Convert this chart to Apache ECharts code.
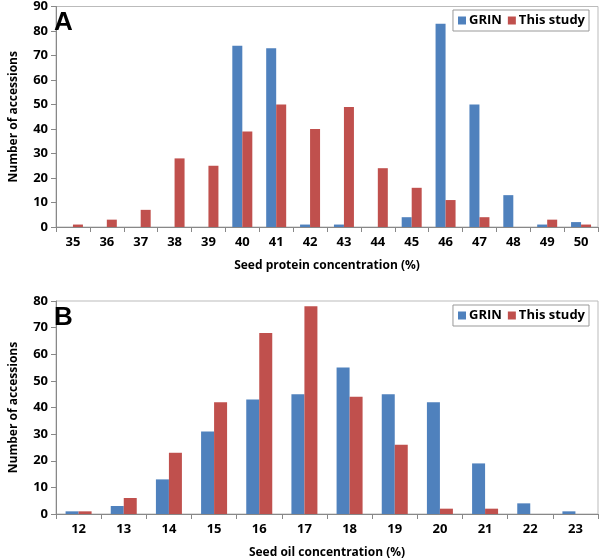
<!DOCTYPE html>
<html>
<head>
<meta charset="utf-8">
<script src="https://cdn.jsdelivr.net/npm/echarts@6/dist/echarts.min.js"></script>
<style>
html, body { margin: 0; padding: 0; background: #fff; }
#main { width: 600px; height: 560px; }
</style>
</head>
<body>
<div id="main"></div>
<script>
var proteinCats = ['35', '36', '37', '38', '39', '40', '41', '42', '43', '44', '45', '46', '47', '48', '49', '50'];
var proteinGrin = [0, 0, 0, 0, 0, 74, 73, 1, 1, 0, 4, 83, 50, 13, 1, 2];
var proteinStudy = [1, 3, 7, 28, 25, 39, 50, 40, 49, 24, 16, 11, 4, 0, 3, 1];

var oilCats = ['12', '13', '14', '15', '16', '17', '18', '19', '20', '21', '22', '23'];
var oilGrin = [1, 3, 13, 31, 43, 45, 55, 45, 42, 19, 4, 1];
var oilStudy = [1, 6, 23, 42, 68, 78, 44, 26, 2, 2, 0, 0];

var blue = '#4F81BD';
var red = '#C0504D';
var font = 'Open Sans';

var chart = echarts.init(document.getElementById('main'));

function xAxisFor(idx, cats, title) {
    return {
        type: 'category',
        gridIndex: idx,
        data: cats,
        name: title,
        nameLocation: 'middle',
        nameGap: 33,
        nameTextStyle: { fontFamily: font, fontWeight: 'bold', fontSize: 12, color: '#000' },
        axisLine: { lineStyle: { color: '#888' } },
        axisTick: { show: true, alignWithLabel: false, length: 5, lineStyle: { color: '#888' } },
        axisLabel: { fontFamily: font, fontWeight: 'bold', fontSize: 13, color: '#000', margin: 9 }
    };
}

function yAxisFor(idx, max) {
    return {
        type: 'value',
        gridIndex: idx,
        min: 0,
        max: max,
        interval: 10,
        name: 'Number of accessions',
        nameLocation: 'middle',
        nameGap: 36,
        nameTextStyle: { fontFamily: font, fontWeight: 'bold', fontSize: 12, color: '#000' },
        splitLine: { show: false },
        axisLine: { show: true, lineStyle: { color: '#888' } },
        axisTick: { show: true, length: 5, lineStyle: { color: '#888' } },
        axisLabel: { fontFamily: font, fontWeight: 'bold', fontSize: 13, color: '#000', margin: 8 }
    };
}

function legendFor(top) {
    return {
        data: ['GRIN', 'This study'],
        right: 11,
        top: top,
        orient: 'horizontal',
        itemWidth: 8,
        itemHeight: 8,
        itemGap: 6,
        icon: 'rect',
        borderColor: '#999',
        borderWidth: 1,
        padding: [4, 4, 4, 5],
        textStyle: { fontFamily: font, fontWeight: 'bold', fontSize: 13, color: '#000', padding: [0, 0, 0, -2] }
    };
}

var option = {
    animation: false,
    color: [blue, red],
    title: [
        { text: 'A', left: 49, top: 5, textStyle: { fontFamily: 'Liberation Sans', fontWeight: 'bold', fontSize: 26, color: '#000' } },
        { text: 'B', left: 49, top: 300, textStyle: { fontFamily: 'Liberation Sans', fontWeight: 'bold', fontSize: 26, color: '#000' } }
    ],
    legend: [legendFor(10), legendFor(305)],
    grid: [
        { left: 46, top: 6, width: 552, height: 221, show: true, borderColor: '#bbb', borderWidth: 1 },
        { left: 46, top: 301, width: 552, height: 214, show: true, borderColor: '#bbb', borderWidth: 1 }
    ],
    xAxis: [
        xAxisFor(0, proteinCats, 'Seed protein concentration (%)'),
        xAxisFor(1, oilCats, 'Seed oil concentration (%)')
    ],
    yAxis: [yAxisFor(0, 90), yAxisFor(1, 80)],
    series: [
        { name: 'GRIN', type: 'bar', xAxisIndex: 0, yAxisIndex: 0, data: proteinGrin, barWidth: 10, barGap: '0%', itemStyle: { color: blue } },
        { name: 'This study', type: 'bar', xAxisIndex: 0, yAxisIndex: 0, data: proteinStudy, barWidth: 10, barGap: '0%', itemStyle: { color: red } },
        { name: 'GRIN', type: 'bar', xAxisIndex: 1, yAxisIndex: 1, data: oilGrin, barWidth: 13, barGap: '0%', itemStyle: { color: blue } },
        { name: 'This study', type: 'bar', xAxisIndex: 1, yAxisIndex: 1, data: oilStudy, barWidth: 13, barGap: '0%', itemStyle: { color: red } }
    ]
};

chart.setOption(option);
</script>
</body>
</html>
